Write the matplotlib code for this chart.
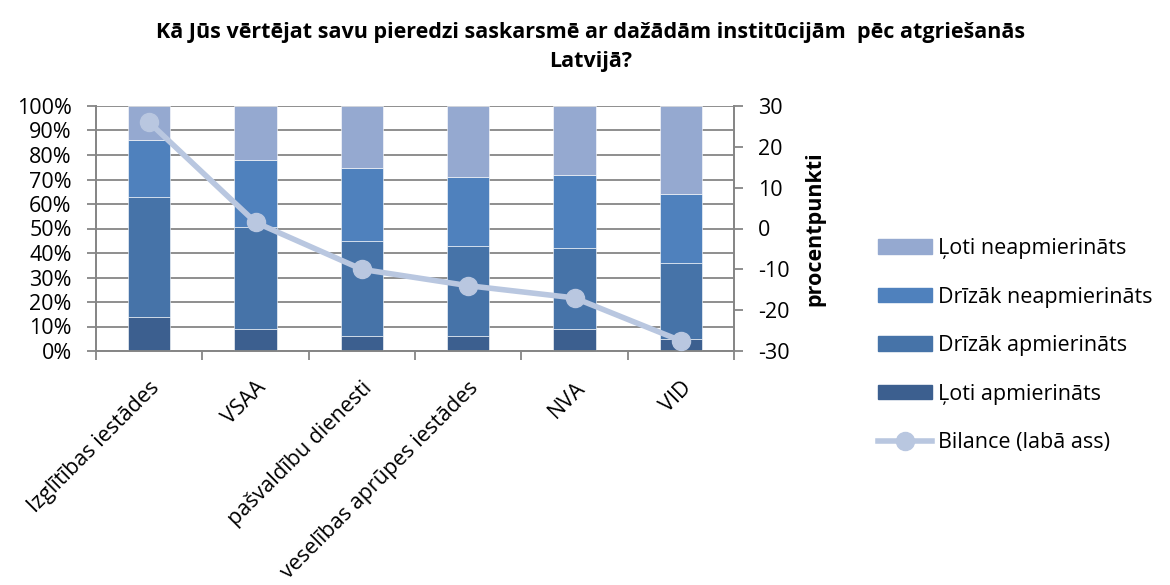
import matplotlib
matplotlib.use("Agg")
import matplotlib.pyplot as plt
import numpy as np
from matplotlib.lines import Line2D
from matplotlib.patches import Patch

plt.rcParams['font.family'] = ['Open Sans', 'DejaVu Sans']

categories = ["Izglītības iestādes", "VSAA", "pašvaldību dienesti",
              "veselības aprūpes iestādes", "NVA", "VID"]
loti_apm = [14, 9, 6, 6, 9, 5]
drizak_apm = [49, 41.5, 39, 37, 33, 31]
drizak_neapm = [23, 27.5, 29.5, 28, 30, 28]
loti_neapm = [14, 22, 25.5, 29, 28, 36]
bilance = [26, 1.5, -10, -14, -17, -27.5]

series_names = ["Ļoti apmierināts", "Drīzāk apmierināts",
                "Drīzāk neapmierināts", "Ļoti neapmierināts"]
colors = ["#3C5F8F", "#4673A8", "#4F81BD", "#95A9D0"]
line_color = "#B9C7E0"
grid_color = "#868686"
fs = 15.5

fig = plt.figure(figsize=(11.7, 5.85), dpi=100)
ax = fig.add_axes([96 / 1170, 1 - 351 / 585, (734 - 96) / 1170, (351 - 106) / 585])
ax2 = ax.twinx()

x = np.arange(len(categories))
bottom = np.zeros(len(categories))
handles = []
for vals, c, name in zip([loti_apm, drizak_apm, drizak_neapm, loti_neapm], colors, series_names):
    ax.bar(x, vals, bottom=bottom, width=0.4, color=c, edgecolor="white", linewidth=0.4, zorder=3)
    bottom += np.array(vals)
    handles.append(Patch(facecolor=c, edgecolor=c, label=name))

ax.set_xlim(-0.5, len(categories) - 0.5)
ax.set_ylim(0, 100)
ax.set_yticks(np.arange(0, 101, 10))
ax.set_yticklabels([f"{v}%" for v in range(0, 101, 10)], fontsize=fs)
ax.yaxis.grid(True, color=grid_color, linewidth=1.3, zorder=0)
ax.set_axisbelow(True)
ax.set_xticks(x)
ax.set_xticklabels(categories, rotation=45, ha="right", rotation_mode="anchor", fontsize=fs)
ax.tick_params(axis="x", which="major", length=0, pad=19)
ax.set_xticks(np.arange(-0.5, len(categories)), minor=True)
ax.tick_params(axis="x", which="minor", length=6.5, color=grid_color, width=1.3)
ax.tick_params(axis="y", length=6.5, color=grid_color, width=1.3, pad=11)
ax.spines["top"].set_visible(False)
for s in ["left", "bottom", "right"]:
    ax.spines[s].set_color(grid_color)
    ax.spines[s].set_linewidth(1.3)
ax2.spines["top"].set_visible(False)
for s in ["left", "bottom", "right"]:
    ax2.spines[s].set_color(grid_color)
    ax2.spines[s].set_linewidth(1.3)

ax2.plot(x, bilance, color=line_color, linewidth=4, marker="o", markersize=13,
         markerfacecolor=line_color, markeredgecolor=line_color, zorder=5)
ax2.set_ylim(-30, 30)
ax2.set_yticks(np.arange(-30, 31, 10))
ax2.set_yticklabels([str(v) for v in range(-30, 31, 10)], fontsize=fs)
ax2.tick_params(axis="y", length=6.5, color=grid_color, width=1.3, pad=11)
ax2.set_ylabel("procentpunkti", fontsize=fs, fontweight="bold")
ax2.yaxis.set_label_coords(1.11, 0.5)

handles = handles[::-1]
handles.append(Line2D([0], [0], color=line_color, linewidth=4, marker="o", markersize=13,
                      markerfacecolor=line_color, markeredgecolor=line_color,
                      label="Bilance (labā ass)"))
fig.legend(handles=handles, loc="upper left", bbox_to_anchor=(878 / 1170, 1 - 238 / 585),
           frameon=False, fontsize=fs, handlelength=2.5, handleheight=0.65,
           labelspacing=1.28, handletextpad=0.3, borderpad=0, borderaxespad=0)

fig.text(0.505, 0.963, "Kā Jūs vērtējat savu pieredzi saskarsmē ar dažādām institūcijām  pēc atgriešanās\nLatvijā?",
         ha="center", va="top", fontsize=fs, fontweight="bold", linespacing=1.5)

fig.savefig("out.png", dpi=100)
